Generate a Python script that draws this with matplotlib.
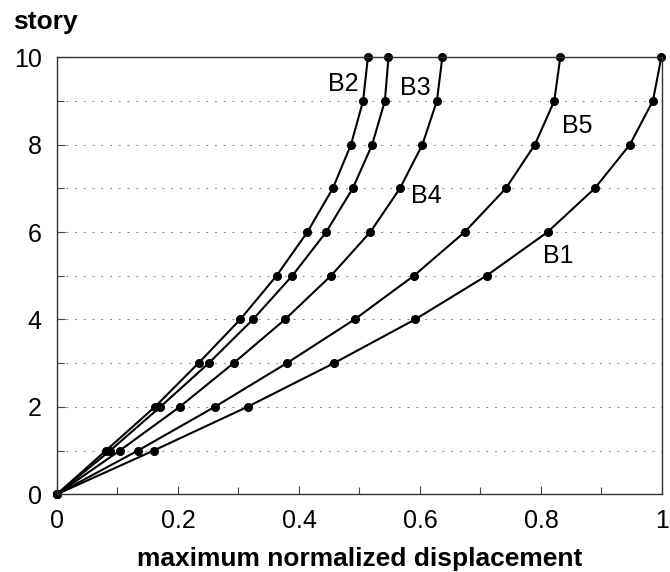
import numpy as np
import matplotlib
matplotlib.use('Agg')
import matplotlib.pyplot as plt
from matplotlib.ticker import MultipleLocator, FuncFormatter

plt.rcParams['font.family'] = ['Liberation Sans', 'DejaVu Sans']

story = [0, 1, 2, 3, 4, 5, 6, 7, 8, 9, 10]
B1 = [0, 0.160, 0.315, 0.458, 0.592, 0.710, 0.811, 0.889, 0.947, 0.985, 0.999]
B2 = [0, 0.081, 0.162, 0.234, 0.303, 0.363, 0.414, 0.456, 0.486, 0.506, 0.514]
B3 = [0, 0.088, 0.171, 0.251, 0.324, 0.389, 0.445, 0.489, 0.521, 0.542, 0.548]
B4 = [0, 0.104, 0.203, 0.292, 0.377, 0.453, 0.518, 0.567, 0.604, 0.628, 0.637]
B5 = [0, 0.134, 0.261, 0.380, 0.492, 0.590, 0.674, 0.742, 0.790, 0.822, 0.832]

names = ['B1', 'B2', 'B3', 'B4', 'B5']
label_x = [0.829, 0.473, 0.592, 0.610, 0.860]
label_y = [5.45, 9.38, 9.29, 6.83, 8.42]

fig = plt.figure(figsize=(6.7, 5.72), dpi=100)
ax = fig.add_axes([0.085, 0.136, 0.903, 0.764])

# faint dashed gridlines at each story
for s in story[1:-1]:
    ax.axhline(s, color='#888888', lw=0.7, ls=(0, (2, 7)), zorder=0)

for series in [B1, B2, B3, B4, B5]:
    ax.plot(series, story, c='black', lw=1.5, marker='o', ms=5.5, clip_on=False)

for n, tx, ty in zip(names, label_x, label_y):
    ax.text(tx, ty, n, fontsize=18, ha='center', va='center')

ax.set_xlim(0, 1)
ax.set_ylim(0, 10)
ax.xaxis.set_major_locator(MultipleLocator(0.2))
ax.xaxis.set_minor_locator(MultipleLocator(0.1))
ax.yaxis.set_major_locator(MultipleLocator(2))
ax.yaxis.set_minor_locator(MultipleLocator(1))
ax.xaxis.set_major_formatter(FuncFormatter(lambda v, p: '%g' % round(v, 1)))
ax.tick_params(which='both', direction='in', labelsize=18, width=0.8, color='#444444')
ax.tick_params(which='major', length=6)
ax.tick_params(which='minor', length=5)
ax.tick_params(axis='x', which='major', pad=11)
ax.tick_params(axis='y', which='major', pad=11)
for sp in ax.spines.values():
    sp.set_linewidth(1.0)
    sp.set_color('#333333')

ax.set_xlabel('maximum normalized displacement', fontsize=19, fontweight='bold', labelpad=10)
fig.text(0.02, 0.949, 'story', fontsize=19, fontweight='bold', ha='left', va='baseline')

fig.savefig('out.png', dpi=100)
